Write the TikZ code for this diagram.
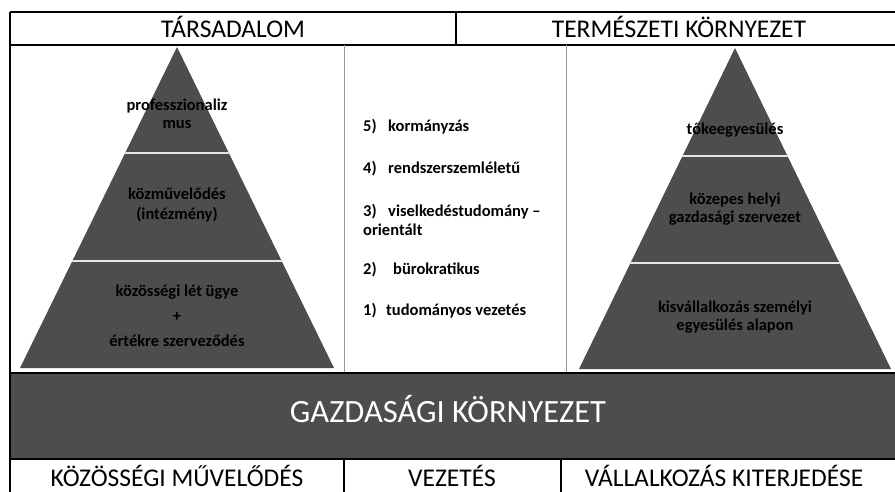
\documentclass[tikz,border=0pt]{standalone}
\usepackage{fontspec}
\setmainfont{Carlito}
\definecolor{pyrgray}{RGB}{77,77,77}
\tikzset{
  frame/.style={draw=black, line width=1.6pt},
  sep/.style={draw=black!40, line width=0.8pt},
  head/.style={anchor=base, font=\fontsize{25.5}{28}\selectfont},
  lbl/.style={font=\bfseries\fontsize{16.5}{18}\selectfont, align=center, inner sep=0pt},
  item/.style={anchor=west, font=\bfseries\fontsize{16.5}{18}\selectfont, inner sep=0pt},
  cut/.style={draw=white!90!black, line width=2pt},
}

\begin{document}
\begin{tikzpicture}[x=1pt,y=-1pt]
\useasboundingbox (0,0) rectangle (895,491);
% header
\path[frame] (10,12) -- (905,12);
\path[frame] (10,45) -- (905,45);
\path[frame] (456,12) -- (456,45);
\path[frame] (10,12) -- (10,495);
\node[head] (soc) at (233,37) {TÁRSADALOM};
\node[head] (nat) at (679,37) {TERMÉSZETI KÖRNYEZET};
% middle columns
\path[sep] (344,45) -- (344,373);
\path[sep] (566,45) -- (566,373);
% left pyramid
\begin{scope}[xshift=177pt]
\begin{scope}
\clip (0,47) -- (157,368) -- (-157,368) -- cycle;
\fill[pyrgray] (-160,40) rectangle (160,370);
\path[cut] (-160,153) -- (160,153);
\path[cut] (-160,261) -- (160,261);
\end{scope}
\node[lbl] (l3) at (0,114) {professzionaliz\\mus};
\node[lbl] (l2) at (0,205) {közművelődés\\[2pt](intézmény)};
\node[lbl] (l1) at (0,316) {közösségi lét ügye\\[7pt]+\\[7pt]értékre szerveződés};
\end{scope}
% right pyramid
\begin{scope}[xshift=735pt]
\begin{scope}
\clip (0,48) -- (156,369) -- (-156,369) -- cycle;
\fill[pyrgray] (-160,40) rectangle (160,372);
\path[cut] (-160,156) -- (160,156);
\path[cut] (-160,263) -- (160,263);
\end{scope}
\node[lbl] (r3) at (0,130) {tőkeegyesülés};
\node[lbl] (r2) at (0,209) {közepes helyi\\gazdasági szervezet};
\node[lbl] (r1) at (0,317) {kisvállalkozás személyi\\egyesülés alapon};
\end{scope}
% management list
\node[item] (m5) at (363,127) {\makebox[25pt][l]{5)}kormányzás};
\node[item] (m4) at (363,169) {\makebox[25pt][l]{4)}rendszerszemléletű};
\node[item] (m3) at (363,212) {\makebox[25pt][l]{3)}viselkedéstudomány –};
\node[item] (m3b) at (363,230) {orientált};
\node[item] (m2) at (363,270) {\makebox[30pt][l]{2)}bürokratikus};
\node[item] (m1) at (363,311) {\makebox[23pt][l]{1)}tudományos vezetés};
% economic band
\path[frame, fill=pyrgray] (10,373) rectangle (905,459);
\node[head, text=white, font=\fontsize{32.5}{35}\selectfont] (eco) at (448,422) {GAZDASÁGI KÖRNYEZET};
% footer
\path[frame] (344,459) -- (344,495);
\path[frame] (561,459) -- (561,495);
\node[head] (kult) at (177,486) {KÖZÖSSÉGI MŰVELŐDÉS};
\node[head] (vez) at (452,486) {VEZETÉS};
\node[head] (vall) at (724,486) {VÁLLALKOZÁS KITERJEDÉSE};
\end{tikzpicture}
\end{document}
